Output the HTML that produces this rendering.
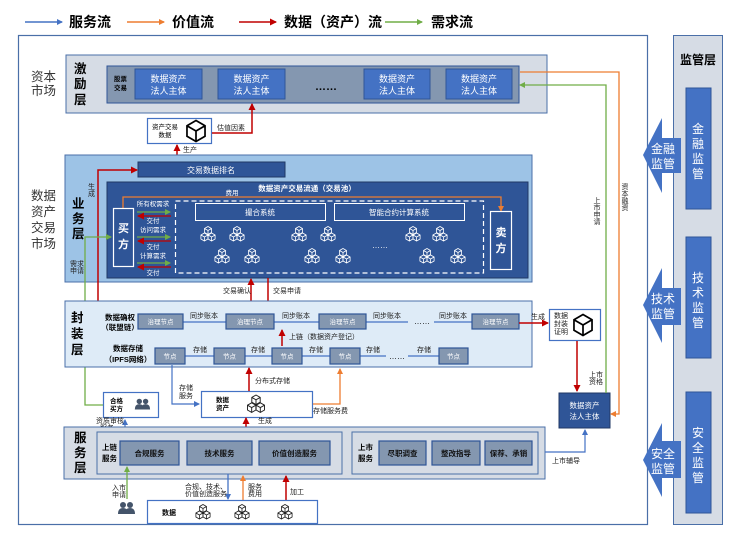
<!DOCTYPE html>
<html><head><meta charset="utf-8"><style>
html,body{margin:0;padding:0;background:#fff}
svg{display:block}
text{font-family:"Liberation Sans","Noto Sans CJK SC",sans-serif}
.w{fill:#fff}
.s{font-size:7px;fill:#222}
.b{font-weight:bold}
</style></head><body>
<svg width="740" height="541" viewBox="0 0 740 541" xmlns="http://www.w3.org/2000/svg">
<defs>
<marker id="mb" markerWidth="6" markerHeight="6" refX="5" refY="3" orient="auto" markerUnits="userSpaceOnUse"><path d="M0,0 L6,3 L0,6z" fill="#4472c4"/></marker>
<marker id="mo" markerWidth="6" markerHeight="6" refX="5" refY="3" orient="auto" markerUnits="userSpaceOnUse"><path d="M0,0 L6,3 L0,6z" fill="#ed7d31"/></marker>
<marker id="mr" markerWidth="7" markerHeight="7" refX="6" refY="3.5" orient="auto" markerUnits="userSpaceOnUse"><path d="M0,0 L7,3.5 L0,7z" fill="#c00000"/></marker>
<marker id="mg" markerWidth="6" markerHeight="6" refX="5" refY="3" orient="auto" markerUnits="userSpaceOnUse"><path d="M0,0 L6,3 L0,6z" fill="#70ad47"/></marker>
<g id="cu"><path d="M0,-4 L3.5,-2 L3.5,2 L0,4 L-3.5,2 L-3.5,-2z M0,0 L0,4 M0,0 L-3.5,-2 M0,0 L3.5,-2" fill="none" stroke-width="0.8"/></g>
<g id="cl"><use href="#cu" x="0" y="-3.5"/><use href="#cu" x="-3.6" y="3"/><use href="#cu" x="3.6" y="3"/></g>
<g id="big"><path d="M0,-11 L9.5,-5.5 L9.5,5.5 L0,11 L-9.5,5.5 L-9.5,-5.5z M0,0 L0,11 M0,0 L-9.5,-5.5 M0,0 L9.5,-5.5" fill="#fff" stroke="#000" stroke-width="1.8"/></g>
<g id="ppl"><circle cx="-3" cy="-4" r="3"/><circle cx="4" cy="-4" r="3"/><path d="M-8,5 Q-8,-1 -3,-1 Q2,-1 2,5z M-1,5 Q-1,-1 4,-1 Q9,-1 9,5z"/></g>
</defs>

<line x1="25" y1="22" x2="62" y2="22" stroke="#4472c4" stroke-width="1.5" marker-end="url(#mb)"/>
<text x="69" y="27" font-size="14" font-weight="bold">服务流</text>
<line x1="127" y1="22" x2="164" y2="22" stroke="#ed7d31" stroke-width="1.5" marker-end="url(#mo)"/>
<text x="172" y="27" font-size="14" font-weight="bold">价值流</text>
<line x1="239" y1="22" x2="276" y2="22" stroke="#c00000" stroke-width="1.5" marker-end="url(#mr)"/>
<text x="284" y="27" font-size="14" font-weight="bold">数据（资产）流</text>
<line x1="385" y1="22" x2="422" y2="22" stroke="#70ad47" stroke-width="1.5" marker-end="url(#mg)"/>
<text x="431" y="27" font-size="14" font-weight="bold">需求流</text>

<rect x="18.5" y="35.5" width="629" height="489" fill="#fff" stroke="#4a6fa8" stroke-width="1.2"/>
<rect x="673.5" y="35.5" width="49" height="489" fill="#d6dce5" stroke="#4a6fa8" stroke-width="1"/>
<text x="698" y="64" font-size="12" font-weight="bold" text-anchor="middle">监管层</text>
<rect x="686" y="88" width="25" height="121" fill="#4472c4" stroke="#2f5597"/>
<rect x="686" y="237" width="25" height="121" fill="#4472c4" stroke="#2f5597"/>
<rect x="686" y="392" width="25" height="121" fill="#4472c4" stroke="#2f5597"/>
<g class="w" font-size="12" text-anchor="middle">
<text x="698" y="133">金</text><text x="698" y="148">融</text><text x="698" y="163">监</text><text x="698" y="178">管</text>
<text x="698" y="282">技</text><text x="698" y="297">术</text><text x="698" y="312">监</text><text x="698" y="327">管</text>
<text x="698" y="437">安</text><text x="698" y="452">全</text><text x="698" y="467">监</text><text x="698" y="482">管</text>
</g>
<g fill="#4472c4">
<polygon points="643,155 662,118 662,138 681,138 681,173 662,173 662,193"/>
<polygon points="643,305 662,268 662,288 681,288 681,325 662,325 662,343"/>
<polygon points="643,460 662,423 662,441 681,441 681,478 662,478 662,497"/>
</g>
<g class="w" font-size="12" text-anchor="middle">
<text x="663" y="153">金融</text><text x="663" y="168">监管</text>
<text x="663" y="303">技术</text><text x="663" y="318">监管</text>
<text x="663" y="458">安全</text><text x="663" y="473">监管</text>
</g>

<g font-size="12.5" fill="#333">
<text x="31" y="81">资本</text><text x="31" y="95">市场</text>
<text x="31" y="200">数据</text><text x="31" y="216">资产</text><text x="31" y="232">交易</text><text x="31" y="248">市场</text>
</g>

<rect x="66" y="55" width="481" height="58" fill="#d6dce5" stroke="#4a6fa8"/>
<g font-size="12.5" font-weight="bold"><text x="74" y="73">激</text><text x="74" y="88">励</text><text x="74" y="104">层</text></g>
<rect x="107" y="66" width="412" height="37" fill="#8497b0" stroke="#2f5597"/>
<text x="114" y="81" font-size="6.5" font-weight="bold">股票</text><text x="114" y="90" font-size="6.5" font-weight="bold">交易</text>
<g fill="#4472c4" stroke="#2f5597"><rect x="135" y="69" width="67" height="30"/><rect x="218" y="69" width="67" height="30"/><rect x="364" y="69" width="66" height="30"/><rect x="446" y="69" width="66" height="30"/></g>
<g class="w" font-size="9" text-anchor="middle">
<text x="168.5" y="82">数据资产</text><text x="168.5" y="94">法人主体</text>
<text x="251.5" y="82">数据资产</text><text x="251.5" y="94">法人主体</text>
<text x="397" y="82">数据资产</text><text x="397" y="94">法人主体</text>
<text x="479" y="82">数据资产</text><text x="479" y="94">法人主体</text>
</g>
<text x="326" y="90" font-size="11" font-weight="bold" text-anchor="middle">……</text>

<rect x="147.5" y="118.5" width="64" height="25" fill="#fff" stroke="#4472c4" stroke-width="1.2"/>
<text x="165" y="129" font-size="6.5" text-anchor="middle">资产交易</text><text x="165" y="137" font-size="6.5" text-anchor="middle">数据</text>
<g transform="translate(196,131) scale(0.95)"><use href="#big"/></g>
<polyline points="212,133 252,133 252,104" fill="none" stroke="#c00000" stroke-width="1.5" marker-end="url(#mr)"/>
<text x="217" y="130" class="s">估值因素</text>
<line x1="177" y1="162" x2="177" y2="145" stroke="#c00000" stroke-width="1.5" marker-end="url(#mr)"/>
<text x="183" y="152" class="s">生产</text>

<rect x="65" y="155" width="467" height="127" fill="#9dc3e6" stroke="#4a6fa8"/>
<g font-size="12.5" font-weight="bold"><text x="72" y="208">业</text><text x="72" y="223">务</text><text x="72" y="238">层</text></g>
<rect x="138" y="162" width="147" height="15" fill="#2f5597" stroke="#203864"/>
<text x="211" y="173" class="w" font-size="8" text-anchor="middle">交易数据排名</text>
<rect x="107" y="182" width="421" height="96" fill="#2f5597" stroke="#203864"/>
<text x="307" y="191" class="w" font-size="7.5" font-weight="bold" text-anchor="middle">数据资产交易流通（交易池）</text>
<polyline points="123,208 123,197 501,197 501,211" fill="none" stroke="#ed7d31" stroke-width="1.3" marker-end="url(#mo)"/>
<text x="232" y="195" class="w" font-size="6.5" text-anchor="middle">费用</text>
<rect x="113.5" y="208.5" width="20" height="58" fill="none" stroke="#fff" stroke-width="1.2"/>
<text x="123.5" y="232" class="w" font-size="11" font-weight="bold" text-anchor="middle">买</text><text x="123.5" y="248" class="w" font-size="11" font-weight="bold" text-anchor="middle">方</text>
<rect x="490.5" y="211.5" width="21" height="58" fill="none" stroke="#fff" stroke-width="1.2"/>
<text x="501" y="236" class="w" font-size="11" font-weight="bold" text-anchor="middle">卖</text><text x="501" y="252" class="w" font-size="11" font-weight="bold" text-anchor="middle">方</text>
<g class="w" font-size="6.5" text-anchor="middle">
<text x="153" y="206">所有权需求</text><text x="153" y="223">交付</text>
<text x="153" y="232">访问需求</text><text x="153" y="249">交付</text>
<text x="153" y="258">计算需求</text><text x="153" y="275">交付</text>
</g>
<g stroke-width="1.3">
<line x1="137" y1="212" x2="170" y2="212" stroke="#70ad47" marker-end="url(#mg)"/>
<line x1="171" y1="216" x2="138" y2="216" stroke="#c00000" marker-end="url(#mr)"/>
<line x1="137" y1="237" x2="170" y2="237" stroke="#70ad47" marker-end="url(#mg)"/>
<line x1="171" y1="241" x2="138" y2="241" stroke="#c00000" marker-end="url(#mr)"/>
<line x1="137" y1="263" x2="170" y2="263" stroke="#70ad47" marker-end="url(#mg)"/>
<line x1="171" y1="267" x2="138" y2="267" stroke="#c00000" marker-end="url(#mr)"/>
</g>
<rect x="175.5" y="201" width="308" height="72" fill="none" stroke="#fff" stroke-width="1.2" stroke-dasharray="5,3"/>
<rect x="195.5" y="203.5" width="130" height="17" fill="none" stroke="#fff"/>
<text x="260" y="215" class="w" font-size="7.5" text-anchor="middle">撮合系统</text>
<rect x="334.5" y="203.5" width="130" height="17" fill="none" stroke="#fff"/>
<text x="399" y="215" class="w" font-size="7.5" text-anchor="middle">智能合约计算系统</text>
<g stroke="#fff">
<use href="#cl" x="208" y="234"/><use href="#cl" x="237" y="234"/><use href="#cl" x="299" y="234"/><use href="#cl" x="328" y="234"/><use href="#cl" x="413" y="234"/><use href="#cl" x="440" y="234"/>
<use href="#cl" x="222" y="256"/><use href="#cl" x="252" y="256"/><use href="#cl" x="312" y="256"/><use href="#cl" x="343" y="256"/><use href="#cl" x="427" y="256"/><use href="#cl" x="458" y="256"/>
</g>
<text x="380" y="248" class="w" font-size="8" text-anchor="middle">……</text>
<text x="88" y="189" class="s" font-size="6.5">生</text><text x="88" y="196" class="s" font-size="6.5">成</text>
<text x="70" y="266" class="s" font-size="6.5">需求</text><text x="70" y="273" class="s" font-size="6.5">申请</text>

<polyline points="138,322 98,322 98,170 137,170" fill="none" stroke="#c00000" stroke-width="1.5" marker-end="url(#mr)"/>
<polyline points="103,405 85,405 85,237 111,237" fill="none" stroke="#70ad47" stroke-width="1.3" marker-end="url(#mg)"/>

<line x1="251" y1="314" x2="251" y2="279" stroke="#c00000" stroke-width="1.5" marker-end="url(#mr)"/>
<line x1="268" y1="278" x2="268" y2="313" stroke="#c00000" stroke-width="1.5" marker-end="url(#mr)"/>
<text x="223" y="293" class="s">交易确认</text><text x="273" y="293" class="s">交易申请</text>

<rect x="65" y="301" width="467" height="66" fill="#deebf7" stroke="#4a6fa8"/>
<g font-size="12.5" font-weight="bold"><text x="71" y="322">封</text><text x="71" y="338">装</text><text x="71" y="354">层</text></g>
<text x="120" y="320" font-size="7.5" font-weight="bold" text-anchor="middle">数据确权</text>
<text x="120" y="330" font-size="7.5" font-weight="bold" text-anchor="middle">（联盟链）</text>
<text x="128" y="351" font-size="7.5" font-weight="bold" text-anchor="middle">数据存储</text>
<text x="128" y="362" font-size="7.5" font-weight="bold" text-anchor="middle">（IPFS网络）</text>
<g stroke="#4472c4" stroke-width="1.2">
<line x1="183" y1="322" x2="226" y2="322"/><line x1="274" y1="322" x2="319" y2="322"/><line x1="366" y1="322" x2="408" y2="322"/><line x1="434" y1="322" x2="472" y2="322"/>
<line x1="185" y1="356" x2="214" y2="356"/><line x1="245" y1="356" x2="272" y2="356"/><line x1="302" y1="356" x2="330" y2="356"/><line x1="360" y1="356" x2="386" y2="356"/><line x1="408" y1="356" x2="439" y2="356"/>
</g>
<g fill="#8497b0" stroke="#2f5597" stroke-width="1.2">
<rect x="138" y="314" width="45" height="15"/><rect x="226" y="314" width="48" height="15"/><rect x="319" y="314" width="47" height="15"/><rect x="472" y="314" width="47" height="15"/>
<rect x="155" y="348" width="30" height="16"/><rect x="214" y="348" width="31" height="16"/><rect x="272" y="348" width="30" height="16"/><rect x="330" y="348" width="30" height="16"/><rect x="439" y="348" width="29" height="16"/>
</g>
<g class="w" font-size="6.5" text-anchor="middle">
<text x="160.5" y="324">治理节点</text><text x="250" y="324">治理节点</text><text x="342.5" y="324">治理节点</text><text x="495.5" y="324">治理节点</text>
<text x="170" y="358.5">节点</text><text x="229.5" y="358.5">节点</text><text x="287" y="358.5">节点</text><text x="345" y="358.5">节点</text><text x="453.5" y="358.5">节点</text>
</g>
<g class="s" font-size="6.5" text-anchor="middle">
<text x="204" y="318">同步账本</text><text x="296" y="318">同步账本</text><text x="387" y="318">同步账本</text><text x="453" y="318">同步账本</text>
<text x="200" y="352">存储</text><text x="258" y="352">存储</text><text x="316" y="352">存储</text><text x="373" y="352">存储</text><text x="424" y="352">存储</text>
</g>
<text x="422" y="324" font-size="8" text-anchor="middle">……</text>
<text x="397" y="359" font-size="8" text-anchor="middle">……</text>
<line x1="282" y1="346" x2="282" y2="330" stroke="#c00000" stroke-width="1.5" marker-end="url(#mr)"/>
<text x="289" y="339" class="s">上链（数据资产登记）</text>
<line x1="519" y1="323" x2="548" y2="323" stroke="#c00000" stroke-width="1.5" marker-end="url(#mr)"/>
<text x="531" y="319" class="s">生成</text>

<rect x="549.5" y="309.5" width="51" height="31" fill="#fff" stroke="#4472c4" stroke-width="1.2"/>
<text x="561" y="318" class="s" font-size="6.5" text-anchor="middle">数据</text><text x="561" y="326" class="s" font-size="6.5" text-anchor="middle">封装</text><text x="561" y="334" class="s" font-size="6.5" text-anchor="middle">证明</text>
<g transform="translate(583,325) scale(0.95)"><use href="#big"/></g>
<line x1="577" y1="341" x2="577" y2="391" stroke="#c00000" stroke-width="1.5" marker-end="url(#mr)"/>
<text x="589" y="377" class="s" font-size="6.5">上市</text><text x="589" y="384" class="s" font-size="6.5">资格</text>
<rect x="559" y="393" width="51" height="35" fill="#2f5597" stroke="#203864"/>
<text x="584.5" y="408" class="w" font-size="7.5" text-anchor="middle">数据资产</text><text x="584.5" y="419" class="w" font-size="7.5" text-anchor="middle">法人主体</text>

<polyline points="606,393 606,85 520,85" fill="none" stroke="#70ad47" stroke-width="1.3" marker-end="url(#mg)"/>
<polyline points="520,72 619,72 619,414 611,414" fill="none" stroke="#ed7d31" stroke-width="1.3" marker-end="url(#mo)"/>
<g class="s" font-size="6.5" text-anchor="middle">
<text x="597" y="203">上</text><text x="597" y="210">市</text><text x="597" y="217">申</text><text x="597" y="224">请</text>
<text x="625" y="189">资</text><text x="625" y="196">本</text><text x="625" y="203">融</text><text x="625" y="210">资</text>
</g>

<polyline points="172,365 172,404 199,404" fill="none" stroke="#4472c4" stroke-width="1.2" marker-end="url(#mb)"/>
<text x="179" y="390" class="s" font-size="6.5">存储</text><text x="179" y="398" class="s" font-size="6.5">服务</text>
<rect x="201.5" y="391.5" width="111" height="26" fill="#fff" stroke="#4472c4" stroke-width="1.2"/>
<text x="216" y="402" font-size="6.5" font-weight="bold">数据</text><text x="216" y="410" font-size="6.5" font-weight="bold">资产</text>
<g stroke="#222" transform="translate(256,404) scale(1.2)"><use href="#cl"/></g>
<line x1="249" y1="391" x2="249" y2="368" stroke="#c00000" stroke-width="1.5" marker-end="url(#mr)"/>
<text x="255" y="383" class="s">分布式存储</text>
<polyline points="313,404 340,404 340,369" fill="none" stroke="#ed7d31" stroke-width="1.3" marker-end="url(#mo)"/>
<text x="313" y="413" class="s">存储服务费</text>

<rect x="103.5" y="392.5" width="55" height="25" fill="#fff" stroke="#4472c4" stroke-width="1.2"/>
<text x="110" y="403" font-size="6.5" font-weight="bold">合格</text><text x="110" y="411" font-size="6.5" font-weight="bold">买方</text>
<g fill="#44546a" transform="translate(142,405) scale(0.9)"><use href="#ppl"/></g>
<line x1="125" y1="441" x2="125" y2="420" stroke="#4472c4" stroke-width="1.2" marker-end="url(#mb)"/>
<text x="96" y="423" class="s" font-size="6.5">资质审核</text><text x="100" y="430" class="s" font-size="6.5">服务</text>
<line x1="246" y1="431" x2="246" y2="418" stroke="#c00000" stroke-width="1.5" marker-end="url(#mr)"/>
<text x="258" y="423" class="s">生成</text>

<rect x="64" y="427" width="481" height="52" fill="#d6dce5" stroke="#4a6fa8"/>
<g font-size="12.5" font-weight="bold"><text x="74" y="442">服</text><text x="74" y="457">务</text><text x="74" y="472">层</text></g>
<rect x="97" y="432" width="245" height="42" fill="#d6dce5" stroke="#4a6fa8"/>
<text x="102" y="450" font-size="7.5" font-weight="bold">上链</text><text x="102" y="461" font-size="7.5" font-weight="bold">服务</text>
<g fill="#8497b0" stroke="#2f5597" stroke-width="1.2">
<rect x="120" y="441" width="59" height="24"/><rect x="187" y="441" width="65" height="24"/><rect x="259" y="441" width="71" height="24"/>
<rect x="379" y="441" width="47" height="24"/><rect x="432" y="441" width="48" height="24"/><rect x="485" y="441" width="47" height="24"/>
</g>
<rect x="352" y="432" width="186" height="42" fill="none" stroke="#4a6fa8"/>
<text x="358" y="450" font-size="7.5" font-weight="bold">上市</text><text x="358" y="461" font-size="7.5" font-weight="bold">服务</text>
<g font-size="7.5" font-weight="bold" fill="#111" text-anchor="middle">
<text x="149.5" y="456">合规服务</text><text x="219.5" y="456">技术服务</text><text x="294.5" y="456">价值创造服务</text>
<text x="402.5" y="456">尽职调查</text><text x="456" y="456">整改指导</text><text x="508.5" y="456">保荐、承销</text>
</g>
<polyline points="545,452 585,452 585,430" fill="none" stroke="#4472c4" stroke-width="1.2" marker-end="url(#mb)"/>
<text x="552" y="463" class="s" font-size="6.5">上市辅导</text>

<line x1="127" y1="499" x2="127" y2="467" stroke="#70ad47" stroke-width="1.3" marker-end="url(#mg)"/>
<text x="112" y="490" class="s" font-size="6.5">入市</text><text x="112" y="497" class="s" font-size="6.5">申请</text>
<g fill="#44546a" transform="translate(126,509)"><use href="#ppl"/></g>
<line x1="228" y1="474" x2="228" y2="499" stroke="#4472c4" stroke-width="1.3" marker-end="url(#mb)"/>
<text x="185" y="489" class="s" font-size="6.5">合规、技术、</text><text x="185" y="496" class="s" font-size="6.5">价值创造服务</text>
<line x1="243" y1="500" x2="243" y2="476" stroke="#ed7d31" stroke-width="1.3" marker-end="url(#mo)"/>
<text x="248" y="489" class="s" font-size="6.5">服务</text><text x="248" y="496" class="s" font-size="6.5">费用</text>
<line x1="286" y1="500" x2="286" y2="476" stroke="#c00000" stroke-width="1.5" marker-end="url(#mr)"/>
<text x="290" y="494" class="s">加工</text>
<rect x="147.5" y="500.5" width="170" height="23" fill="#fff" stroke="#4472c4" stroke-width="1.2"/>
<text x="162" y="515" font-size="7" font-weight="bold">数据</text>
<g stroke="#222"><use href="#cl" x="203" y="512"/><use href="#cl" x="242" y="512"/><use href="#cl" x="285" y="512"/></g>
</svg>
</body></html>
